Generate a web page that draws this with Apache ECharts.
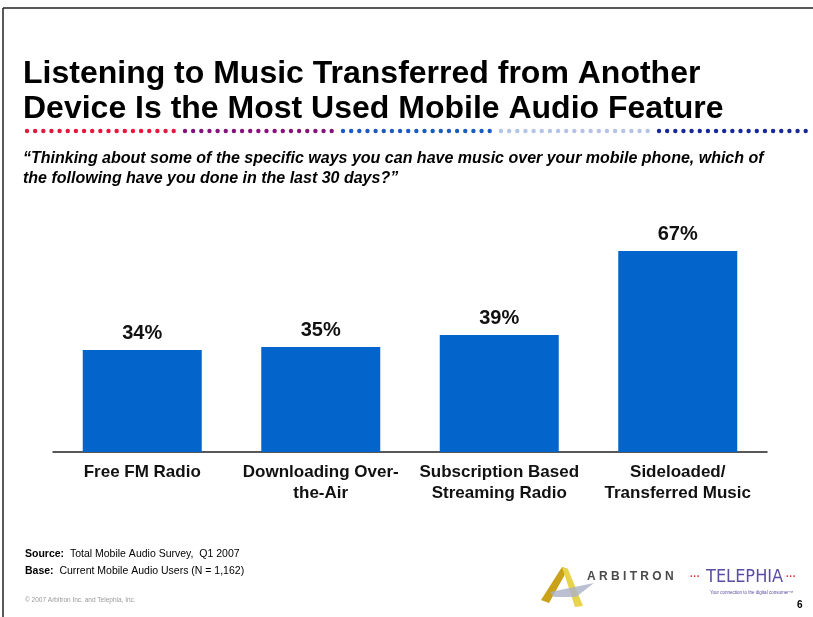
<!DOCTYPE html>
<html>
<head>
<meta charset="utf-8">
<script src="https://cdn.jsdelivr.net/npm/echarts@6/dist/echarts.min.js"></script>
<style>
  html, body { margin: 0; padding: 0; background: #fff; }
  #chart { width: 813px; height: 617px; }
</style>
</head>
<body>
<div id="chart"></div>
<script>
// Survey results: share of mobile audio users using each feature in the last 30 days
const categories = [
  'Free FM Radio',
  'Downloading Over-\nthe-Air',
  'Subscription Based\nStreaming Radio',
  'Sideloaded/\nTransferred Music'
];
const usagePercent = [34, 35, 39, 67];

const titleText = 'Listening to Music Transferred from Another\nDevice Is the Most Used Mobile Audio Feature';
const questionText = '\u201CThinking about some of the specific ways you can have music over your mobile phone, which of\nthe following have you done in the last 30 days?\u201D';

const FONT = '"Liberation Sans", Arial, sans-serif';

// Decorative dotted rule under the headline: five coloured groups
const dotGroups = [
  { x0: 27, color: '#e8163f' },
  { x0: 185, color: '#87127c' },
  { x0: 343, color: '#1b5cc4' },
  { x0: 501, color: '#b3c4e6' },
  { x0: 659, color: '#16289a' }
];
const dots = [];
dotGroups.forEach(g => {
  for (let i = 0; i < 19; i++) {
    dots.push({
      type: 'circle',
      shape: { cx: g.x0 + i * 8.15, cy: 131, r: 2.2 },
      style: { fill: g.color },
      silent: true
    });
  }
});

const chart = echarts.init(document.getElementById('chart'), null, { renderer: 'canvas' });

chart.setOption({
  backgroundColor: '#ffffff',
  animation: false,
  title: [
    {
      text: titleText,
      left: 18,
      top: 52,
      textStyle: { fontFamily: FONT, fontSize: 32, fontWeight: 'bold', color: '#000', lineHeight: 35 }
    },
    {
      text: questionText,
      left: 18,
      top: 144,
      textStyle: { fontFamily: FONT, fontSize: 16, fontWeight: 'bold', fontStyle: 'italic', color: '#000', lineHeight: 20 }
    }
  ],
  grid: { left: 53, right: 46, top: 152, bottom: 165, containLabel: false },
  xAxis: {
    type: 'category',
    data: categories,
    axisLine: { show: true, lineStyle: { color: '#222', width: 1.5 } },
    axisTick: { show: false },
    axisLabel: {
      interval: 0,
      margin: 10,
      fontFamily: FONT,
      fontSize: 17,
      fontWeight: 'bold',
      color: '#111',
      lineHeight: 21
    }
  },
  yAxis: {
    type: 'value',
    min: 0,
    max: 100,
    show: false,
    splitLine: { show: false }
  },
  series: [{
    type: 'bar',
    data: usagePercent,
    barWidth: 119,
    itemStyle: { color: '#0365cc' },
    label: {
      show: true,
      position: 'top',
      distance: 7,
      formatter: '{c}%',
      fontFamily: FONT,
      fontSize: 20,
      fontWeight: 'bold',
      color: '#111'
    }
  }],
  graphic: [
    // page frame
    { type: 'line', shape: { x1: 3, y1: 8, x2: 813, y2: 8 }, style: { stroke: '#222', lineWidth: 1.5 }, silent: true },
    { type: 'line', shape: { x1: 3, y1: 8, x2: 3, y2: 617 }, style: { stroke: '#222', lineWidth: 1.5 }, silent: true },
    ...dots,
    // source notes
    {
      type: 'text', left: 25, top: 549,
      style: {
        text: '{b|Source:}  Total Mobile Audio Survey,  Q1 2007',
        font: '10.5px ' + FONT, fill: '#000',
        rich: { b: { fontWeight: 'bold', fontSize: 10.5, fontFamily: FONT } }
      }
    },
    {
      type: 'text', left: 25, top: 566,
      style: {
        text: '{b|Base:}  Current Mobile Audio Users (N = 1,162)',
        font: '10.5px ' + FONT, fill: '#000',
        rich: { b: { fontWeight: 'bold', fontSize: 10.5, fontFamily: FONT } }
      }
    },
    {
      type: 'text', left: 25, top: 597,
      style: { text: '\u00A9 2007 Arbitron Inc. and Telephia, Inc.', font: '6.5px ' + FONT, fill: '#9a9a9a' }
    },
    // Arbitron mark
    { type: 'polygon', shape: { points: [[562, 567], [568, 569], [549, 603], [541, 600]] }, style: { fill: '#c9a21a' }, silent: true },
    { type: 'polygon', shape: { points: [[562, 567], [568, 569], [583, 606], [575, 607]] }, style: { fill: '#e8d44a' }, silent: true },
    { type: 'polygon', shape: { points: [[550, 592], [594, 583], [576, 597], [554, 597]] }, style: { fill: '#aab0c8', opacity: 0.8 }, silent: true },
    {
      type: 'text', left: 587, top: 571,
      style: { text: 'A R B I T R O N', font: 'bold 12px ' + FONT, fill: '#4a4a4a' }
    },
    // Telephia mark
    {
      type: 'text', left: 690, top: 572,
      style: { text: '\u00B7\u00B7\u00B7', font: 'bold 10px ' + FONT, fill: '#e0303a' }
    },
    {
      type: 'text', left: 706, top: 568,
      style: { text: 'TELEPHIA', font: '18px "DejaVu Sans Condensed", sans-serif', fill: '#5a4ea3' }
    },
    {
      type: 'text', left: 786, top: 572,
      style: { text: '\u00B7\u00B7\u00B7', font: 'bold 10px ' + FONT, fill: '#e0303a' }
    },
    {
      type: 'text', left: 710, top: 590,
      style: { text: 'Your connection to the digital consumer\u2122', font: '4.5px ' + FONT, fill: '#5a4ea3' }
    },
    // page number
    {
      type: 'text', left: 797, top: 600,
      style: { text: '6', font: 'bold 10px ' + FONT, fill: '#000' }
    }
  ]
});
</script>
</body>
</html>
